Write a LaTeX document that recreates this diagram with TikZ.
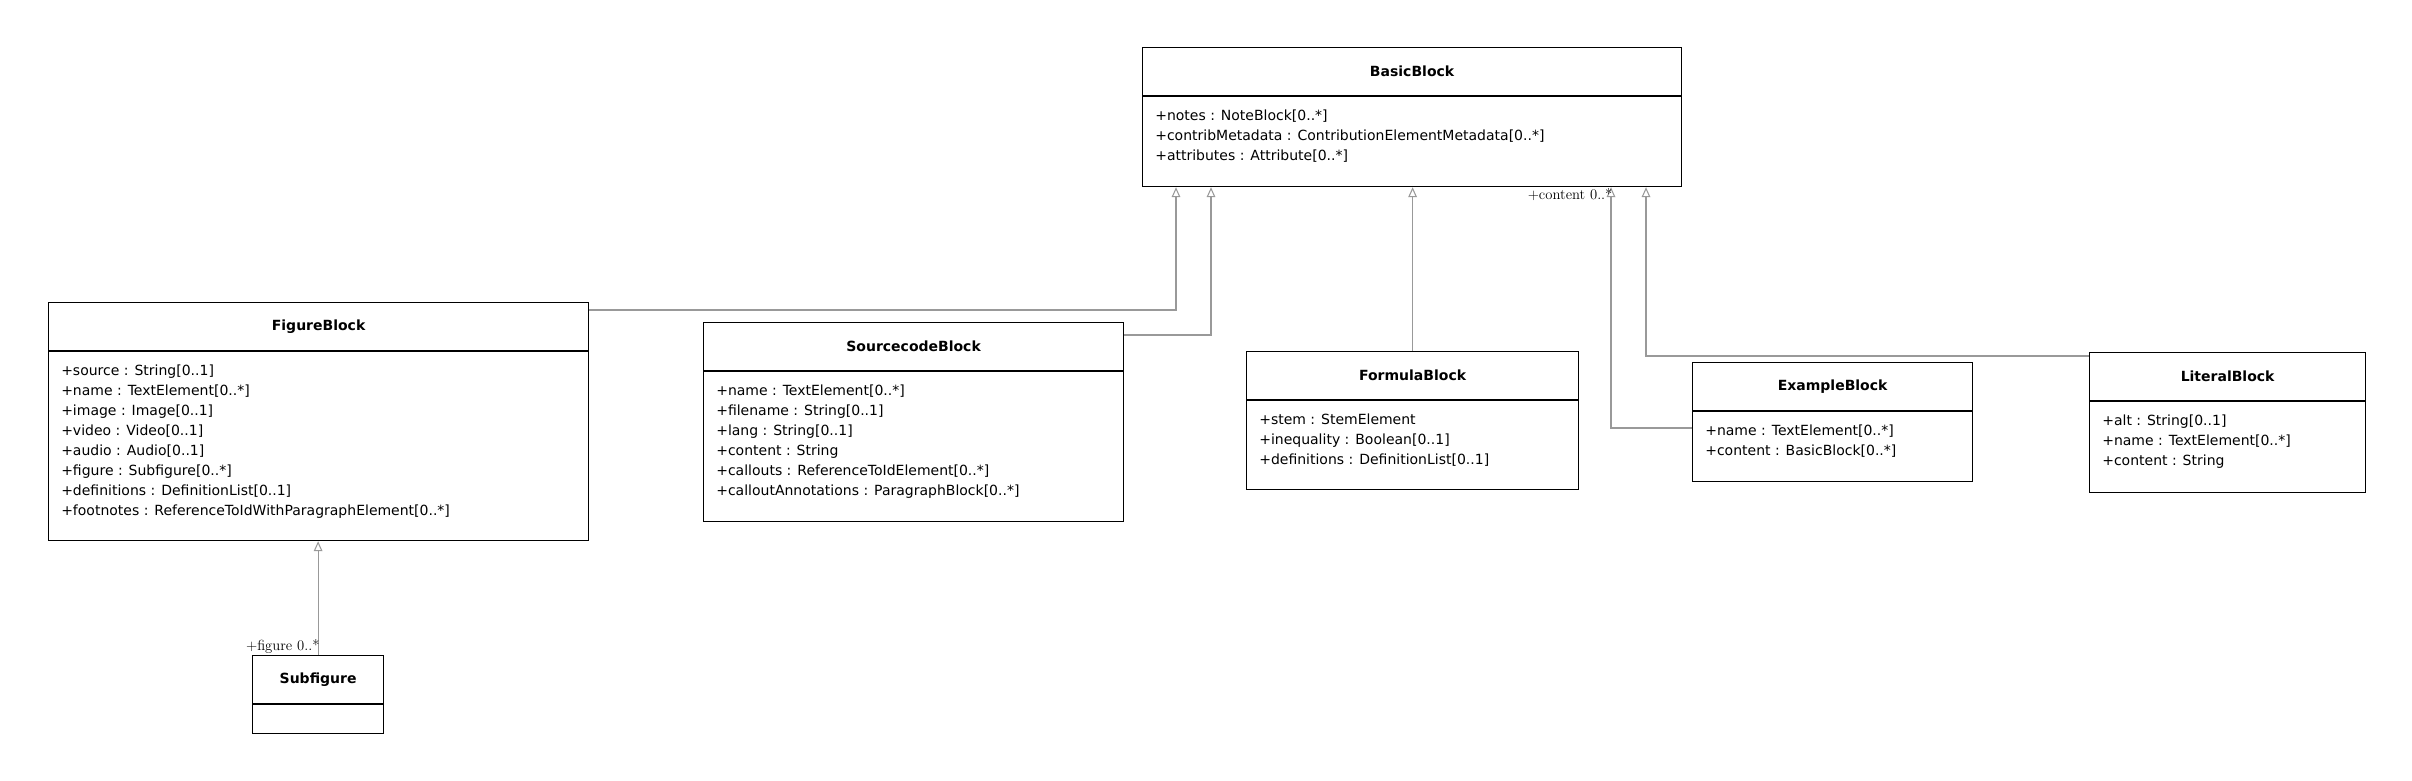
\documentclass[tikz,border=0pt]{standalone}
\usepackage{fontspec}
\newfontfamily\umlfont{DejaVu Sans}
\usetikzlibrary{arrows.meta,calc}

\tikzset{
  cls/.style = {draw, rectangle, inner sep = 0, anchor = north west, line width = .9pt},
  ttl/.style = {font = \umlfont\bfseries\fontsize{10.5}{12}\selectfont},
  attr/.style = {anchor = north west, align = left, inner sep = 0,
                 font = \umlfont\fontsize{10.5}{15}\selectfont},
  gen/.style = {draw = black!40, line width = .8pt,
                -{Triangle[open, length = 7.5pt, width = 6.5pt]}},
  role/.style = {font = \fontsize{11}{12}\selectfont, inner sep = 1pt}
}
% header is 49px high, everything in px
\newcommand\umlclass[6]{%
  \node[cls, minimum width = #3*.75pt, minimum height = #4*.75pt] (#1) at #2 {};
  \node[ttl] (#1-t) at ($(#1.north)+(0,24.5)$) {#5};
  \draw[line width = .9pt] ($(#1.north west)+(0,49)$) -- ($(#1.north east)+(0,49)$);
  \node[attr] (#1-a) at ($(#1.north west)+(13,63)$) {#6};
}

\begin{document}
\begin{tikzpicture}[x = .75pt, y = -.75pt]
  \useasboundingbox (0, 0) rectangle (2412, 781);

  \umlclass{basic}{(1142, 47)}{539}{139}{BasicBlock}
    {+notes : NoteBlock[0..*]\\+contribMetadata : ContributionElementMetadata[0..*]\\+attributes : Attribute[0..*]}
  \umlclass{figure}{(48, 302)}{540}{238}{FigureBlock}
    {+source : String[0..1]\\+name : TextElement[0..*]\\+image : Image[0..1]\\+video : Video[0..1]\\+audio : Audio[0..1]\\+figure : Subfigure[0..*]\\+definitions : DefinitionList[0..1]\\+footnotes : ReferenceToIdWithParagraphElement[0..*]}
  \umlclass{source}{(703, 322)}{420}{199}{SourcecodeBlock}
    {+name : TextElement[0..*]\\+filename : String[0..1]\\+lang : String[0..1]\\+content : String\\+callouts : ReferenceToIdElement[0..*]\\+calloutAnnotations : ParagraphBlock[0..*]}
  \umlclass{formula}{(1246, 351)}{332}{138}{FormulaBlock}
    {+stem : StemElement\\+inequality : Boolean[0..1]\\+definitions : DefinitionList[0..1]}
  \umlclass{example}{(1692, 362)}{280}{119}{ExampleBlock}
    {+name : TextElement[0..*]\\+content : BasicBlock[0..*]}
  \umlclass{literal}{(2089, 352)}{276}{140}{LiteralBlock}
    {+alt : String[0..1]\\+name : TextElement[0..*]\\+content : String}
  \umlclass{subfig}{(252, 655)}{131}{78}{Subfigure}{}

  % generalisations
  \coordinate (bf) at ($(basic.south west)+(34, 0)$);
  \coordinate (bs) at ($(basic.south west)+(69, 0)$);
  \coordinate (be) at ($(basic.south west)+(469, 0)$);
  \coordinate (bl) at ($(basic.south west)+(504, 0)$);
  \draw[gen] ($(figure.north east)+(0, 8)$) -| (bf);
  \draw[gen] ($(source.north east)+(0, 13)$) -| (bs);
  \draw[gen] (formula.north) -- (formula.north |- basic.south);
  \draw[gen] ($(example.north west)+(0, 66)$) -| (be);
  \draw[gen] ($(literal.north west)+(0, 4)$) -| (bl);
  \draw[gen] (subfig.north) -- (subfig.north |- figure.south);

  \node[role, anchor = north east] (lc) at ($(be)+(3, 0)$) {+content 0..*};
  \node[role, anchor = south east] (lf) at ($(subfig.north)+(3, 0)$) {+figure 0..*};
\end{tikzpicture}
\end{document}
